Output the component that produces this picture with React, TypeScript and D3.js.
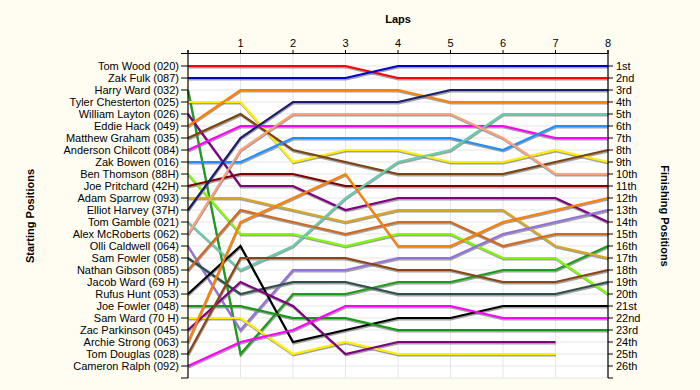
import React from "react";
import * as d3 from "d3";

const drivers = [
  "Tom Wood (020)", "Zak Fulk (087)", "Harry Ward (032)", "Tyler Chesterton (025)",
  "William Layton (026)", "Eddie Hack (049)", "Matthew Graham (035)", "Anderson Chilcott (084)",
  "Zak Bowen (016)", "Ben Thomson (88H)", "Joe Pritchard (42H)", "Adam Sparrow (093)",
  "Elliot Harvey (37H)", "Tom Gamble (021)", "Alex McRoberts (062)", "Olli Caldwell (064)",
  "Sam Fowler (058)", "Nathan Gibson (085)", "Jacob Ward (69 H)", "Rufus Hunt (053)",
  "Joe Fowler (048)", "Sam Ward (70 H)", "Zac Parkinson (045)", "Archie Strong (063)",
  "Tom Douglas (028)", "Cameron Ralph (092)",
];

const driverColors = [
  "#ff0000", "#0000cc", "#1c9c1c", "#ffee00", "#800080", "#ff8000", "#7a4310", "#ff00ff",
  "#1e90ff", "#7cfc00", "#800000", "#daa520", "#1c1c6c", "#66cdaa", "#ffa07a", "#9370db",
  "#2f4f4f", "#d2691e", "#808080", "#000000", "#119911", "#ffee00", "#800080", "#ff8000",
  "#8b4513", "#ff00ff",
];

// positions at laps 0..8 (shorter arrays = retired)
const lapPositions: number[][] = [
  [1, 1, 1, 1, 2, 2, 2, 2, 2],
  [2, 2, 2, 2, 1, 1, 1, 1, 1],
  [3, 25, 20, 20, 19, 19, 18, 18, 16],
  [4, 4, 9, 8, 8, 9, 9, 8, 9],
  [5, 11, 11, 13, 12, 12, 12, 12, 14],
  [6, 3, 3, 3, 3, 4, 4, 4, 4],
  [7, 5, 8, 9, 10, 10, 10, 9, 8],
  [8, 6, 6, 6, 6, 6, 6, 7, 7],
  [9, 9, 7, 7, 7, 7, 8, 6, 6],
  [10, 15, 15, 16, 15, 15, 17, 17, 20],
  [11, 10, 10, 11, 11, 11, 11, 11, 11],
  [12, 12, 13, 14, 13, 13, 13, 16, 17],
  [13, 7, 4, 4, 4, 3, 3, 3, 3],
  [14, 18, 16, 12, 9, 8, 5, 5, 5],
  [15, 8, 5, 5, 5, 5, 7, 10, 10],
  [16, 23, 18, 18, 17, 17, 15, 14, 13],
  [17, 20, 19, 19, 20, 20, 20, 20, 19],
  [18, 13, 14, 15, 14, 14, 16, 15, 15],
  [],
  [20, 16, 24, 23, 22, 22, 21, 21, 21],
  [21, 21, 22, 22, 23, 23, 23, 23, 23],
  [22, 22, 25, 24, 25, 25, 25, 25],
  [23, 19, 21, 25, 24, 24, 24, 24],
  [24, 14, 12, 10, 16, 16, 14, 13, 12],
  [25, 17, 17, 17, 18, 18, 19, 19, 18],
  [26, 24, 23, 21, 21, 21, 22, 22, 22],
];

const lapTicks = [1, 2, 3, 4, 5, 6, 7, 8];
const finishLabels = [
  "1st", "2nd", "3rd", "4th", "5th", "6th", "7th", "8th", "9th", "10th", "11th", "12th", "13th",
  "14th", "15th", "16th", "17th", "18th", "19th", "20th", "21st", "22nd", "23rd", "24th", "25th", "26th",
];

const W = 700;
const H = 390;
const FONT = "'Liberation Sans', Arial, sans-serif";

export default function App() {
  const x = d3.scaleLinear().domain([0, 8]).range([188, 608]);
  const y = d3.scaleLinear().domain([0, 27]).range([54, 378]);
  const line = d3
    .line<number>()
    .x((_, i) => x(i))
    .y((d) => y(d));
  const rows = d3.range(1, 28);
  return (
    <div style={{ position: "absolute", left: 0, top: 0 }}>
      <svg width={W} height={H} style={{ display: "block" }} fontFamily={FONT}>
        <rect x={0} y={0} width={W} height={H} fill="#fffdf2" />
        <rect x={x(0)} y={y(0)} width={x(8) - x(0)} height={y(27) - y(0)} fill="#ffffff" />
        {rows.map((r) => (
          <line key={"gh" + r} x1={x(0)} x2={x(8)} y1={y(r)} y2={y(r)} stroke="#e6e6e6" strokeWidth={1} />
        ))}
        {lapTicks.map((l) => (
          <line key={"gv" + l} x1={x(l)} x2={x(l)} y1={y(0)} y2={y(27)} stroke="#e6e6e6" strokeWidth={1} />
        ))}
        {/* shadows */}
        {lapPositions.map((p, i) =>
          p.length > 1 ? (
            <path key={"s" + i} d={line(p) || ""} fill="none" stroke="#7a7a7a" strokeOpacity={0.7}
              strokeWidth={2} transform="translate(0.5,1.5)" strokeLinejoin="miter" />
          ) : null
        )}
        {lapPositions.map((p, i) =>
          p.length > 1 ? (
            <path key={"l" + i} d={line(p) || ""} fill="none" stroke={driverColors[i]}
              strokeWidth={2.2} strokeLinejoin="miter" />
          ) : null
        )}
        {/* top axis */}
        <line x1={x(0) - 7} x2={x(8)} y1={y(0) - 0.5} y2={y(0) - 0.5} stroke="#000" strokeWidth={1.2} />
        {[0, ...lapTicks].map((l) => (
          <line key={"tt" + l} x1={x(l)} x2={x(l)} y1={y(0) - 4} y2={y(0)} stroke="#000" strokeWidth={1} />
        ))}
        {lapTicks.map((l) => (
          <text key={"tl" + l} x={x(l)} y={y(0) - 7} textAnchor="middle" fontSize={11} fill="#000">
            {l}
          </text>
        ))}
        <text x={x(4)} y={23} textAnchor="middle" fontSize={11} fontWeight="bold" fill="#000">
          Laps
        </text>
        {/* left axis */}
        <line x1={x(0)} x2={x(0)} y1={y(0) - 4} y2={y(27)} stroke="#000" strokeWidth={1.2} />
        {rows.map((r) => (
          <line key={"lt" + r} x1={x(0) - 7} x2={x(0)} y1={y(r)} y2={y(r)} stroke="#000" strokeWidth={1} />
        ))}
        {drivers.map((d, i) => (
          <text key={"ll" + i} x={x(0) - 9} y={y(i + 1)} dy="0.35em" textAnchor="end" fontSize={11} fill="#000">
            {d}
          </text>
        ))}
        {/* right axis */}
        <line x1={x(8)} x2={x(8)} y1={y(0) - 4} y2={y(27)} stroke="#000" strokeWidth={1.2} />
        {rows.map((r) => (
          <line key={"rt" + r} x1={x(8)} x2={x(8) + 5} y1={y(r)} y2={y(r)} stroke="#000" strokeWidth={1} />
        ))}
        {finishLabels.map((d, i) => (
          <text key={"rl" + i} x={x(8) + 8} y={y(i + 1)} dy="0.35em" textAnchor="start" fontSize={11} fill="#000">
            {d}
          </text>
        ))}
        <text transform={`translate(34,${y(13.5)}) rotate(-90)`} textAnchor="middle" fontSize={11}
          fontWeight="bold" fill="#000">
          Starting Positions
        </text>
        <text transform={`translate(661,${y(13.5)}) rotate(90)`} textAnchor="middle" fontSize={11}
          fontWeight="bold" fill="#000">
          Finishing Positions
        </text>
      </svg>
    </div>
  );
}
